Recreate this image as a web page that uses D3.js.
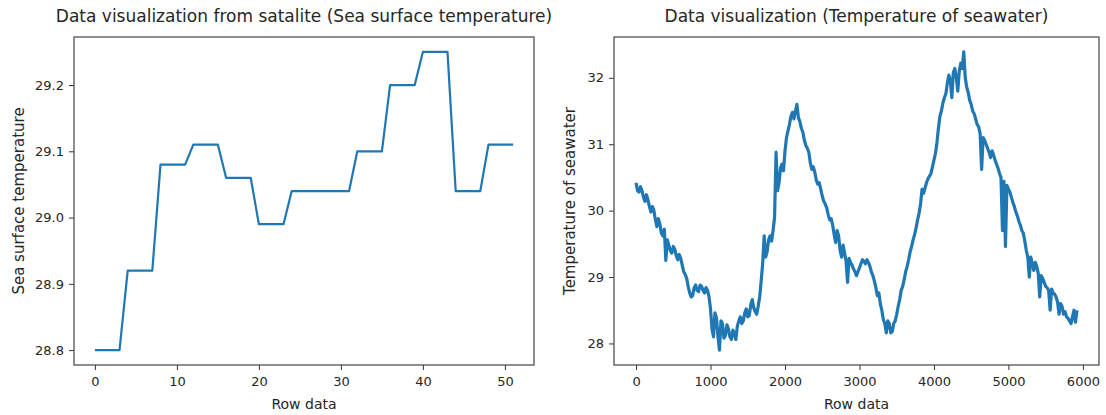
<!DOCTYPE html>
<html lang="en">
  <head>
    <meta charset="UTF-8" />
    <title>Sea temperature</title>
    <style>
      body {
        margin: 0;
        background: #fff;
      }
      #chart text {
        font-family: "DejaVu Sans", sans-serif;
        fill: #262626;
      }
    </style>
  </head>
  <body>
    <div id="chart"></div>
    <script src="https://cdn.jsdelivr.net/npm/d3@7"></script>
    <script>
      // satellite readings, one per row
      var satTemps = [
        28.8, 28.8, 28.8, 28.8, 28.92, 28.92, 28.92, 28.92, 29.08, 29.08, 29.08, 29.08,
        29.11, 29.11, 29.11, 29.11, 29.06, 29.06, 29.06, 29.06, 28.99, 28.99, 28.99, 28.99,
        29.04, 29.04, 29.04, 29.04, 29.04, 29.04, 29.04, 29.04, 29.1, 29.1, 29.1, 29.1,
        29.2, 29.2, 29.2, 29.2, 29.25, 29.25, 29.25, 29.25, 29.04, 29.04, 29.04, 29.04,
        29.11, 29.11, 29.11, 29.11,
      ];
      var satTicksY = [28.8, 28.9, 29.0, 29.1, 29.2];
      var satTicksX = [0, 10, 20, 30, 40, 50];

      // seawater readings [row, temperature]
      var seawater = [
        [0, 30.42], [20, 30.3], [40, 30.28], [60, 30.36], [80, 30.3], [100, 30.2], [120, 30.14],
        [140, 30.24], [160, 30.16], [180, 30.06], [200, 29.98], [220, 30.06], [240, 30.0],
        [260, 29.86], [280, 29.76], [300, 29.88], [320, 29.8], [340, 29.66], [360, 29.62],
        [380, 29.72], [400, 29.25], [420, 29.56], [440, 29.48], [460, 29.4], [480, 29.36],
        [500, 29.46], [520, 29.42], [540, 29.32], [560, 29.26], [580, 29.34], [600, 29.28],
        [620, 29.18], [640, 29.08], [660, 29.04], [680, 28.98], [700, 28.86], [720, 28.76],
        [740, 28.7], [760, 28.72], [780, 28.84], [800, 28.88], [820, 28.8], [840, 28.78],
        [860, 28.88], [880, 28.86], [900, 28.8], [920, 28.76], [940, 28.84], [960, 28.8],
        [980, 28.7], [1000, 28.52], [1020, 28.22], [1040, 28.1], [1060, 28.46], [1080, 28.38],
        [1100, 28.1], [1120, 27.9], [1140, 28.34], [1160, 28.3], [1180, 28.08], [1200, 28.12],
        [1220, 28.28], [1240, 28.22], [1260, 28.1], [1280, 28.06], [1300, 28.2], [1320, 28.14],
        [1340, 28.06], [1360, 28.26], [1380, 28.34], [1400, 28.4], [1420, 28.3], [1440, 28.34],
        [1460, 28.46], [1480, 28.52], [1500, 28.4], [1520, 28.42], [1540, 28.58], [1560, 28.66],
        [1580, 28.54], [1600, 28.48], [1620, 28.44], [1640, 28.56], [1660, 28.7], [1680, 28.94],
        [1700, 29.2], [1720, 29.62], [1740, 29.3], [1760, 29.38], [1780, 29.56], [1800, 29.62],
        [1820, 29.54], [1840, 29.7], [1860, 29.9], [1880, 30.88], [1900, 30.3], [1920, 30.42],
        [1940, 30.64], [1960, 30.7], [1980, 30.6], [2000, 30.9], [2020, 31.1], [2040, 31.2],
        [2060, 31.3], [2080, 31.42], [2100, 31.48], [2120, 31.38], [2140, 31.5], [2160, 31.6],
        [2180, 31.4], [2200, 31.34], [2220, 31.24], [2240, 31.18], [2260, 31.06], [2280, 30.98],
        [2300, 30.94], [2320, 30.88], [2340, 30.72], [2360, 30.62], [2380, 30.66], [2400, 30.58],
        [2420, 30.46], [2440, 30.4], [2460, 30.42], [2480, 30.32], [2500, 30.22], [2520, 30.14],
        [2540, 30.1], [2560, 30.04], [2580, 29.94], [2600, 29.86], [2620, 29.88], [2640, 29.78],
        [2660, 29.64], [2680, 29.52], [2700, 29.7], [2720, 29.62], [2740, 29.4], [2760, 29.3],
        [2780, 29.48], [2800, 29.36], [2820, 29.24], [2840, 28.92], [2860, 29.28], [2880, 29.22],
        [2900, 29.18], [2920, 29.12], [2940, 29.08], [2960, 29.02], [2980, 29.08], [3000, 29.14],
        [3020, 29.2], [3040, 29.26], [3060, 29.24], [3080, 29.2], [3100, 29.26], [3120, 29.22],
        [3140, 29.16], [3160, 29.08], [3180, 29.02], [3200, 28.94], [3220, 28.84], [3240, 28.72],
        [3260, 28.76], [3280, 28.6], [3300, 28.5], [3320, 28.36], [3340, 28.3], [3360, 28.16],
        [3380, 28.34], [3400, 28.3], [3420, 28.16], [3440, 28.18], [3460, 28.3], [3480, 28.34],
        [3500, 28.44], [3520, 28.56], [3540, 28.66], [3560, 28.8], [3580, 28.86], [3600, 28.96],
        [3620, 29.08], [3640, 29.16], [3660, 29.26], [3680, 29.38], [3700, 29.46], [3720, 29.56],
        [3740, 29.64], [3760, 29.74], [3780, 29.86], [3800, 29.96], [3820, 30.1], [3840, 30.32],
        [3860, 30.26], [3880, 30.34], [3900, 30.42], [3920, 30.48], [3940, 30.52], [3960, 30.56],
        [3980, 30.66], [4000, 30.76], [4020, 30.86], [4040, 31.02], [4060, 31.24], [4080, 31.42],
        [4100, 31.5], [4120, 31.62], [4140, 31.7], [4160, 31.76], [4180, 31.92], [4200, 32.04],
        [4220, 31.96], [4240, 31.7], [4260, 32.08], [4280, 32.14], [4300, 32.0], [4320, 31.8],
        [4340, 32.1], [4360, 32.22], [4380, 32.14], [4400, 32.39], [4420, 32.0], [4440, 31.86],
        [4460, 31.78], [4480, 31.66], [4500, 31.6], [4520, 31.5], [4540, 31.46], [4560, 31.38],
        [4580, 31.3], [4600, 31.26], [4620, 31.16], [4640, 30.62], [4660, 31.1], [4680, 31.06],
        [4700, 31.0], [4720, 30.94], [4740, 30.88], [4760, 30.8], [4780, 30.9], [4800, 30.84],
        [4820, 30.76], [4840, 30.7], [4860, 30.64], [4880, 30.56], [4900, 30.5], [4920, 29.7],
        [4940, 30.44], [4960, 29.46], [4980, 30.38], [5000, 30.32], [5020, 30.28], [5040, 30.2],
        [5060, 30.12], [5080, 30.06], [5100, 29.98], [5120, 29.92], [5140, 29.84], [5160, 29.78],
        [5180, 29.7], [5200, 29.66], [5220, 29.54], [5240, 29.4], [5260, 29.3], [5280, 29.0],
        [5300, 29.3], [5320, 29.2], [5340, 29.1], [5360, 29.22], [5380, 29.16], [5400, 29.06],
        [5420, 28.7], [5440, 29.02], [5460, 28.98], [5480, 28.92], [5500, 28.86], [5520, 28.84],
        [5540, 28.8], [5560, 28.5], [5580, 28.82], [5600, 28.76], [5620, 28.74], [5640, 28.7],
        [5660, 28.62], [5680, 28.44], [5700, 28.6], [5720, 28.56], [5740, 28.44], [5760, 28.48],
        [5780, 28.4], [5800, 28.38], [5820, 28.34], [5840, 28.3], [5860, 28.4], [5880, 28.5],
        [5900, 28.32], [5920, 28.5],
      ];
      var seaTicksY = [28, 29, 30, 31, 32];
      var seaTicksX = [0, 1000, 2000, 3000, 4000, 5000, 6000];

      var width = 1106;
      var height = 415;
      var blue = "#1f77b4";

      var svg = d3
        .select("#chart")
        .append("svg")
        .attr("width", width)
        .attr("height", height);

      // matplotlib style 5% margins
      function padded(ext) {
        var p = (ext[1] - ext[0]) * 0.05;
        return [ext[0] - p, ext[1] + p];
      }

      function panel(opts) {
        var x = d3.scaleLinear().domain(padded(opts.xExt)).range([opts.left, opts.right]);
        var y = d3.scaleLinear().domain(padded(opts.yExt)).range([opts.bottom, opts.top]);

        var g = svg.append("g");

        g.append("path")
          .datum(opts.data)
          .attr("fill", "none")
          .attr("stroke", blue)
          .attr("stroke-width", opts.lineWidth)
          .attr("stroke-linejoin", "round")
          .attr("d", d3.line().x((d) => x(d[0])).y((d) => y(d[1])));

        var xAxis = g
          .append("g")
          .attr("transform", "translate(0," + opts.bottom + ")")
          .call(d3.axisBottom(x).tickValues(opts.xTicks).tickSize(5).tickPadding(7).tickFormat(opts.xFmt));
        var yAxis = g
          .append("g")
          .attr("transform", "translate(" + opts.left + ",0)")
          .call(d3.axisLeft(y).tickValues(opts.yTicks).tickSize(5).tickPadding(5).tickFormat(opts.yFmt));

        [xAxis, yAxis].forEach(function (a) {
          a.select(".domain").remove();
          a.selectAll(".tick line").attr("stroke", "#333");
          a.selectAll("text").attr("font-size", 13);
        });

        g.append("rect")
          .attr("x", opts.left)
          .attr("y", opts.top)
          .attr("width", opts.right - opts.left)
          .attr("height", opts.bottom - opts.top)
          .attr("fill", "none")
          .attr("stroke", "#444")
          .attr("stroke-width", 1.2);

        g.append("text")
          .attr("x", (opts.left + opts.right) / 2)
          .attr("y", 22)
          .attr("text-anchor", "middle")
          .attr("font-size", 17)
          .text(opts.title);

        g.append("text")
          .attr("x", (opts.left + opts.right) / 2)
          .attr("y", 409)
          .attr("text-anchor", "middle")
          .attr("font-size", 14)
          .text("Row data");

        g.append("text")
          .attr("transform", "translate(" + opts.yLabelX + "," + (opts.top + opts.bottom) / 2 + ") rotate(-90)")
          .attr("text-anchor", "middle")
          .attr("font-size", 15)
          .text(opts.yLabel);
      }

      var satData = satTemps.map((t, i) => [i, t]);

      panel({
        data: satData,
        xExt: d3.extent(satData, (d) => d[0]),
        yExt: d3.extent(satData, (d) => d[1]),
        left: 74,
        right: 534,
        top: 37,
        bottom: 365,
        lineWidth: 2.2,
        xTicks: satTicksX,
        yTicks: satTicksY,
        xFmt: d3.format("d"),
        yFmt: d3.format(".1f"),
        title: "Data visualization from satalite (Sea surface temperature)",
        yLabel: "Sea surface temperature",
        yLabelX: 24,
      });

      panel({
        data: seawater,
        xExt: d3.extent(seawater, (d) => d[0]),
        yExt: d3.extent(seawater, (d) => d[1]),
        left: 614,
        right: 1099,
        top: 37,
        bottom: 365,
        lineWidth: 3.2,
        xTicks: seaTicksX,
        yTicks: seaTicksY,
        xFmt: d3.format("d"),
        yFmt: d3.format("d"),
        title: "Data visualization (Temperature of seawater)",
        yLabel: "Temperature of seawater",
        yLabelX: 575,
      });
    </script>
  </body>
</html>
